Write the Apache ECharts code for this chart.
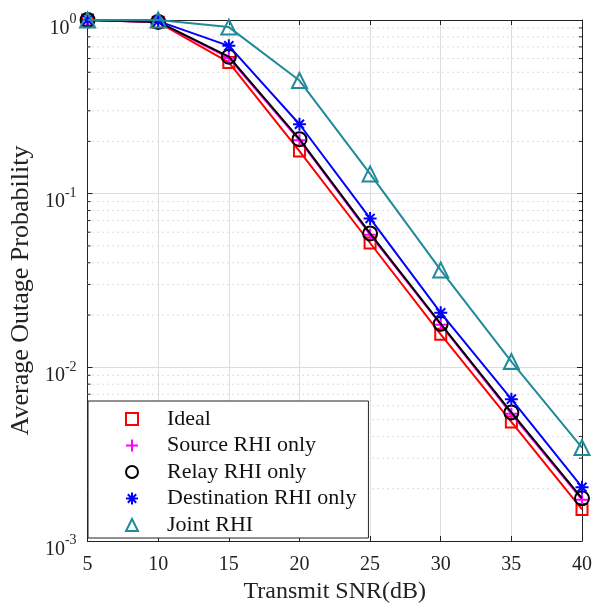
<!DOCTYPE html>
<html>
<head>
<meta charset="utf-8">
<script src="https://cdn.jsdelivr.net/npm/echarts@6/dist/echarts.min.js"></script>
<style>
  html, body { margin: 0; padding: 0; background: #fff; }
  #chart { width: 595px; height: 609px; }
</style>
</head>
<body>
<div id="chart"></div>
<script>
const snr = [5, 10, 15, 20, 25, 30, 35, 40];
const ideal = [1.0, 0.97, 0.57, 0.176, 0.052, 0.0155, 0.00485, 0.00152];
const sourceRhi = [1.0, 0.975, 0.605, 0.203, 0.058, 0.0176, 0.0054, 0.00173];
const relayRhi = [1.0, 0.975, 0.615, 0.206, 0.059, 0.0178, 0.0055, 0.00176];
const destRhi = [1.0, 0.985, 0.71, 0.251, 0.072, 0.0206, 0.00656, 0.00204];
const jointRhi = [1.0, 1.0, 0.91, 0.448, 0.13, 0.0363, 0.0108, 0.00345];

const names = ['Ideal', 'Source RHI only', 'Relay RHI only', 'Destination RHI only', 'Joint RHI'];
const colors = ['#ff0000', '#ff00ff', '#000000', '#0000ff', '#1f8a9a'];

const plusPath = 'path://M5,0L5,10M0,5L10,5';
const starPath = 'path://M5,0L5,10M0,5L10,5M1.5,1.5L8.5,8.5M1.5,8.5L8.5,1.5';
const symbols = ['rect', plusPath, 'circle', starPath, 'triangle'];
const sizes = [11, 12, 14, 13, 15];

// minor log grid positions (2..9 per decade)
const minorVals = [];
[0.001, 0.01, 0.1].forEach(d => {
  for (let k = 2; k <= 9; k++) minorVals.push(k * d);
});

const font = '"Liberation Serif", "Times New Roman", serif';
const allSeries = [ideal, sourceRhi, relayRhi, destRhi, jointRhi];

const chart = echarts.init(document.getElementById('chart'));

const lineSeries = allSeries.map((ys, i) => ({
  name: names[i],
  type: 'line',
  data: snr.map((x, j) => [x, ys[j]]),
  symbol: symbols[i],
  symbolSize: sizes[i],
  lineStyle: { color: colors[i], width: 2 },
  itemStyle: { color: 'transparent', borderColor: colors[i], borderWidth: 2 },
  z: 3 + i
}));

chart.setOption({
  animation: false,
  grid: { left: 83, right: 11, top: 20, bottom: 64 },
  xAxis: [{
    type: 'value', min: 5, max: 40, interval: 5,
    name: 'Transmit SNR(dB)', nameLocation: 'middle', nameGap: 39,
    nameTextStyle: { fontFamily: font, fontSize: 24, color: '#222' },
    axisLine: { lineStyle: { color: '#222' } },
    axisTick: { inside: true, length: 5, lineStyle: { color: '#222' } },
    axisLabel: { fontFamily: font, fontSize: 20, color: '#222', margin: 14 },
    splitLine: { show: true, lineStyle: { color: '#dddddd', width: 1 } }
  }, {
    type: 'value', min: 5, max: 40, interval: 5, position: 'top',
    axisLine: { lineStyle: { color: '#222' } },
    axisTick: { inside: true, length: 5, lineStyle: { color: '#222' } },
    axisLabel: { show: false },
    splitLine: { show: false }
  }],
  yAxis: [{
    type: 'log', logBase: 10, min: 0.001, max: 1,
    name: 'Average Outage Probability', nameLocation: 'middle', nameGap: 52,
    nameTextStyle: { fontFamily: font, fontSize: 26, color: '#222', padding: [0, 20, 0, 0] },
    axisLine: { show: true, lineStyle: { color: '#222' } },
    axisTick: { inside: true, length: 5, lineStyle: { color: '#222' } },
    axisLabel: {
      margin: 11,
      padding: [11, 0, 0, 0],
      formatter: v => '{b|10}{s|' + Math.round(Math.log10(v)) + '}',
      rich: {
        b: { fontFamily: font, fontSize: 20, color: '#222', lineHeight: 26, verticalAlign: 'bottom' },
        s: { fontFamily: font, fontSize: 14, color: '#222', lineHeight: 15, verticalAlign: 'top' }
      }
    },
    splitLine: { show: true, lineStyle: { color: '#dddddd', width: 1 } }
  }, {
    type: 'log', logBase: 10, min: 0.001, max: 1, position: 'right',
    axisLine: { show: true, lineStyle: { color: '#222' } },
    axisTick: { inside: true, length: 5, lineStyle: { color: '#222' } },
    axisLabel: { show: false },
    splitLine: { show: false }
  }],
  legend: {
    orient: 'vertical',
    left: 88, top: 401,
    backgroundColor: '#fff',
    borderColor: '#222', borderWidth: 1, borderRadius: 0,
    padding: [7, 12, 2, 37],
    itemWidth: 12, itemHeight: 12, itemGap: 4.5,
    textStyle: { fontFamily: font, fontSize: 22, color: '#111', padding: [0, 0, 0, 24] },
    selectedMode: false,
    data: names.map((n, i) => ({
      name: n,
      icon: symbols[i],
      itemStyle: { color: 'transparent', borderColor: colors[i], borderWidth: 2 }
    }))
  },
  series: [{
    type: 'custom',
    silent: true,
    z: 1,
    data: minorVals.map(v => [5, v]),
    renderItem: (params, api) => {
      const v = api.value(1);
      const p1 = api.coord([5, v]);
      const p2 = api.coord([40, v]);
      return {
        type: 'group',
        children: [
          { type: 'line', shape: { x1: p1[0], y1: p1[1], x2: p2[0], y2: p2[1] },
            style: { stroke: '#b8b8b8', lineWidth: 1, lineDash: [1, 4] } },
          { type: 'line', shape: { x1: p1[0], y1: p1[1], x2: p1[0] + 3, y2: p1[1] },
            style: { stroke: '#222', lineWidth: 1 } },
          { type: 'line', shape: { x1: p2[0], y1: p2[1], x2: p2[0] - 3, y2: p2[1] },
            style: { stroke: '#222', lineWidth: 1 } }
        ]
      };
    }
  }].concat(lineSeries)
});
</script>
</body>
</html>
